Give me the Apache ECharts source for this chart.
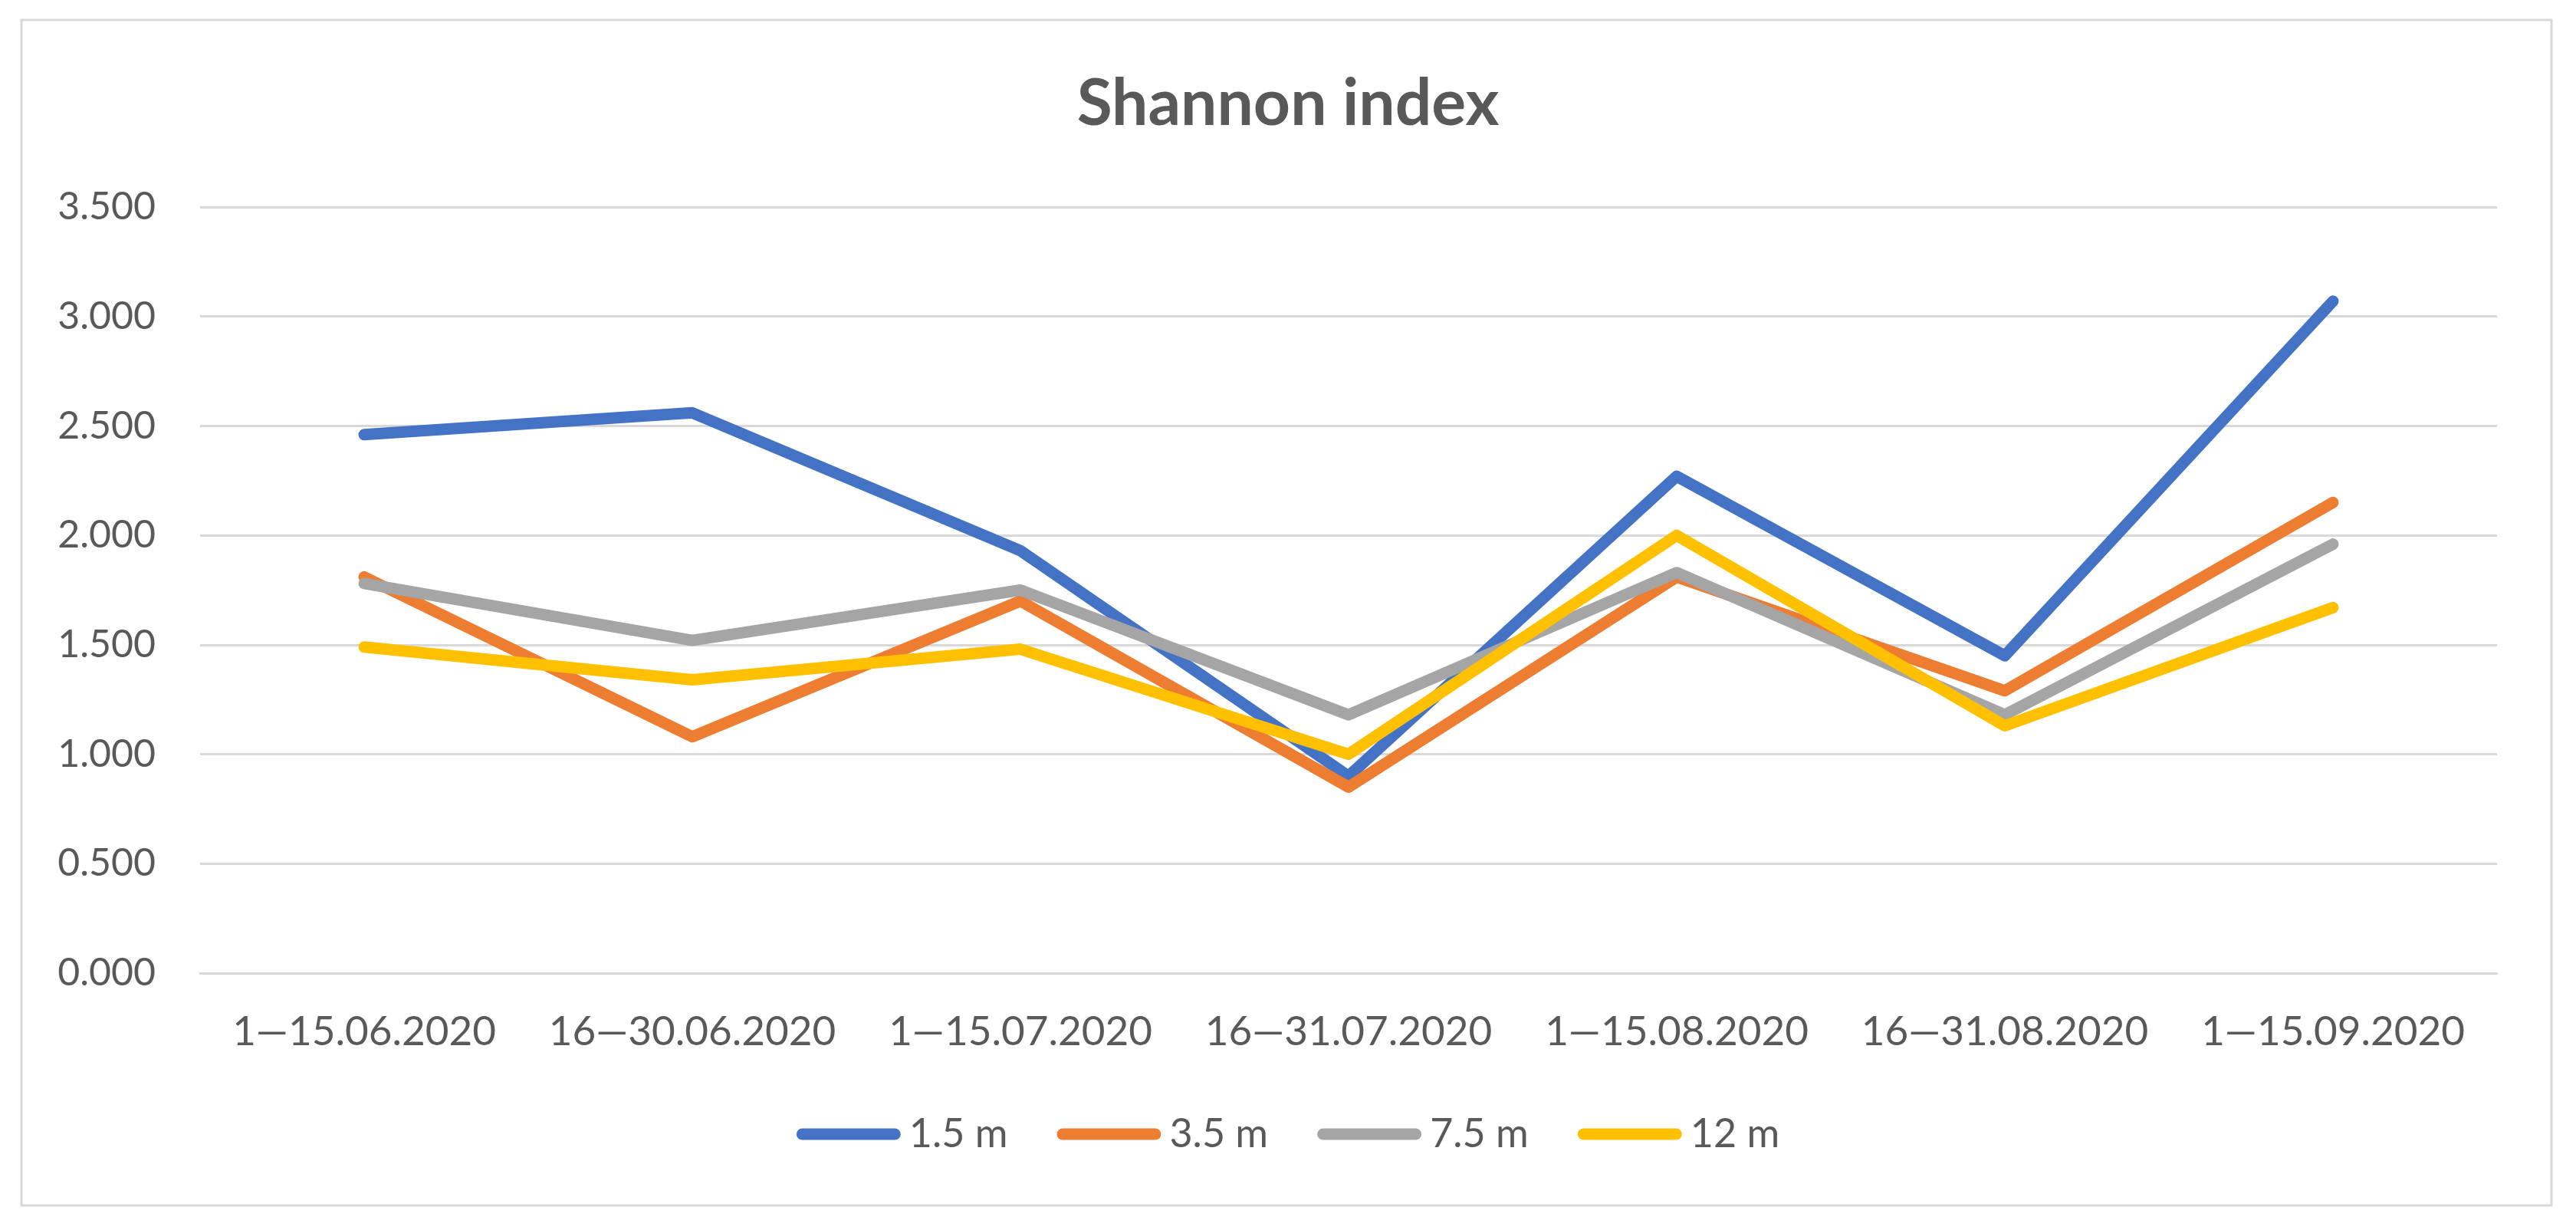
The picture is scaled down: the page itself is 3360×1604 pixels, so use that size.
<!DOCTYPE html>
<html>
<head>
<meta charset="utf-8">
<script src="https://cdn.jsdelivr.net/npm/echarts@6/dist/echarts.min.js"></script>
<style>
html,body{margin:0;padding:0;background:#fff;}
#chart{width:3360px;height:1604px;}
</style>
</head>
<body>
<div id="chart"></div>
<script>
const categories = ['1—15.06.2020','16—30.06.2020','1—15.07.2020','16—31.07.2020','1—15.08.2020','16—31.08.2020','1—15.09.2020'];
const seriesNames = ['1.5 m','3.5 m','7.5 m','12 m'];
const s1_5 = [2.46, 2.56, 1.93, 0.90, 2.27, 1.45, 3.07];
const s3_5 = [1.81, 1.08, 1.70, 0.85, 1.81, 1.29, 2.15];
const s7_5 = [1.78, 1.52, 1.75, 1.18, 1.83, 1.18, 1.96];
const s12 = [1.49, 1.34, 1.48, 1.00, 2.00, 1.13, 1.67];
const yTicks = { min: 0, max: 3.5, interval: 0.5 };

const colors = ['#4472C4','#ED7D31','#A5A5A5','#FFC000'];
const seriesData = [s1_5, s3_5, s7_5, s12];
const font = 'Lato, "Open Sans", sans-serif';
const txt = '#595959';

const chart = echarts.init(document.getElementById('chart'));
chart.setOption({
  animation: false,
  backgroundColor: '#fff',
  title: {
    text: 'Shannon index',
    left: 'center',
    top: 89,
    textStyle: { fontFamily: font, fontWeight: 'bold', fontSize: 84, color: txt }
  },
  graphic: [{
    type: 'rect',
    shape: { x: 28, y: 26, width: 3300, height: 1546 },
    style: { fill: 'none', stroke: '#D9D9D9', lineWidth: 3 },
    silent: true
  }],
  legend: {
    data: seriesNames,
    left: 'center',
    top: 1448,
    itemWidth: 136,
    itemHeight: 15,
    itemGap: 64,
    icon: 'path://M7.5,0 H128.5 A7.5,7.5 0 0 1 128.5,15 H7.5 A7.5,7.5 0 0 1 7.5,0 Z',
    textStyle: { fontFamily: font, fontSize: 52, color: txt, padding: [0,0,0,6] }
  },
  grid: { left: 261, right: 103, top: 270, bottom: 335, containLabel: false },
  xAxis: {
    type: 'category',
    data: categories,
    boundaryGap: true,
    axisLine: { show: true, lineStyle: { color: '#D9D9D9', width: 3 } },
    axisTick: { show: false },
    axisLabel: { fontFamily: font, fontSize: 53, color: txt, margin: 50, interval: 0 }
  },
  yAxis: {
    type: 'value',
    min: yTicks.min,
    max: yTicks.max,
    interval: yTicks.interval,
    axisLine: { show: false },
    axisTick: { show: false },
    splitLine: { lineStyle: { color: '#D9D9D9', width: 3 } },
    axisLabel: {
      fontFamily: font, fontSize: 50, color: txt, margin: 58,
      formatter: v => v.toFixed(3)
    }
  },
  series: seriesNames.map((n, i) => ({
    name: n,
    type: 'line',
    data: seriesData[i],
    symbol: 'none',
    color: colors[i],
    lineStyle: { color: colors[i], width: 15, cap: 'round', join: 'round' },
    itemStyle: { color: colors[i] }
  }))
});
</script>
</body>
</html>
